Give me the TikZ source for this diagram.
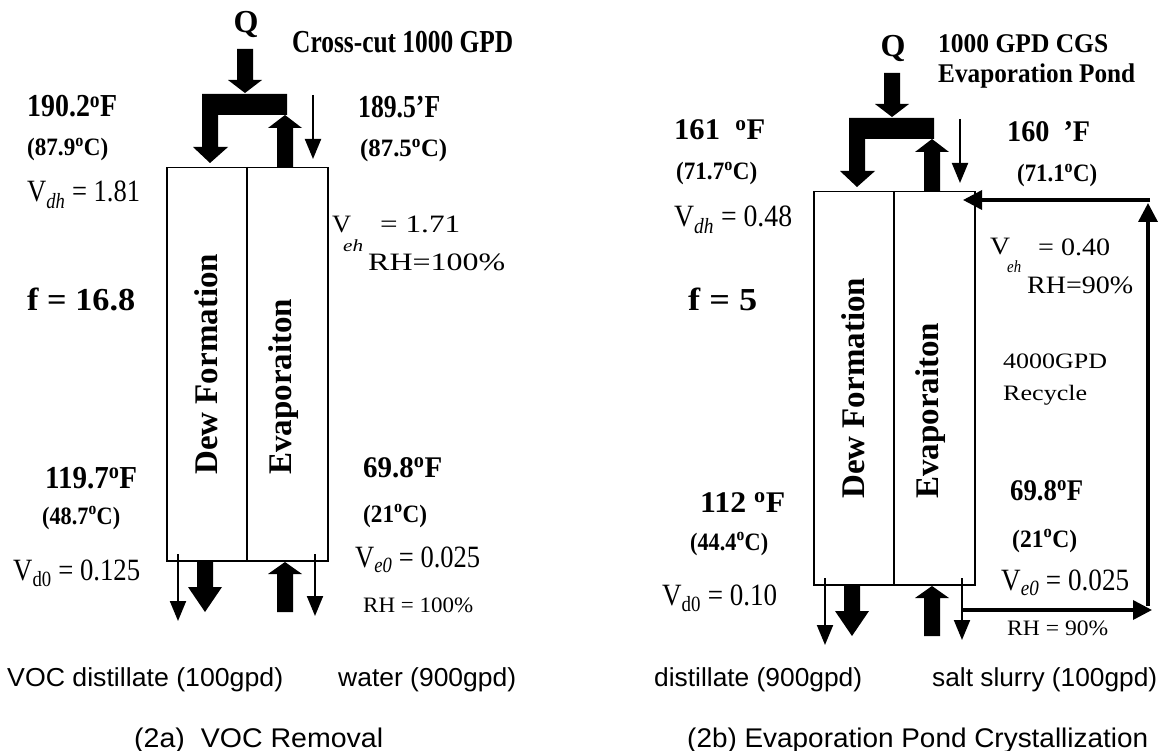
\documentclass[tikz,border=0pt]{standalone}
\usepackage{fontspec}
\usepackage{graphicx}
\setmainfont{Liberation Serif}
\newfontfamily\plainserif{Liberation Serif}
\newfontfamily\csans{Liberation Sans}
\usetikzlibrary{arrows.meta}
\newcommand{\fw}[2]{\resizebox{#1pt}{\height}{#2}}
\newcommand{\dg}{\textsuperscript{o}}
\tikzset{
  lbl/.style={inner sep=0pt, anchor=base west},
  bigb/.style={lbl, font=\plainserif\bfseries\fontsize{32}{32}\selectfont},
  medb/.style={lbl, font=\plainserif\bfseries\fontsize{30}{30}\selectfont},
  midb/.style={lbl, font=\plainserif\bfseries\fontsize{25}{25}\selectfont},
  titleb/.style={lbl, font=\plainserif\bfseries\fontsize{27}{27}\selectfont},
  val/.style={lbl, font=\plainserif\fontsize{31}{31}\selectfont},
  valsm/.style={lbl, font=\plainserif\fontsize{25}{25}\selectfont},
  sub/.style={lbl, font=\plainserif\itshape\fontsize{17}{17}\selectfont},
  rh/.style={lbl, font=\plainserif\fontsize{22}{22}\selectfont},
  capt/.style={lbl, font=\csans\fontsize{26}{26}\selectfont},
  captb/.style={lbl, font=\csans\fontsize{27}{27}\selectfont},
  rot/.style={inner sep=0pt, anchor=base west, rotate=90, font=\plainserif\bfseries\fontsize{33}{33}\selectfont},
  unit/.style={draw, line width=1.5pt, minimum width=161pt, minimum height=393pt, inner sep=0pt, anchor=north west},
  thick/.style={fill=black},
  thin/.style={line width=2pt, -{Triangle[width=16pt,length=20pt]}},
  loop/.style={line width=3.5pt, -{Triangle[width=19pt,length=19pt]}}
}
\newcommand{\panelparts}[1]{%
  \node[unit] (box#1) at (166,167) {};
  \draw[line width=1.5pt] (247,167) -- (247,560);
  \node[rot] (dew#1) at (217,475) {Dew Formation};
  \node[rot] (eva#1) at (291,475) {Evaporaiton};
  \node[lbl, font=\plainserif\bfseries\fontsize{32}{32}\selectfont, anchor=base] (q#1) at (246,33) {Q};
  % thick flows
  \fill[thick] (237,49)--(253,49)--(253,80)--(262,80)--(245,93)--(228,80)--(237,80)--cycle;
  \fill[thick] (202,94)--(287,94)--(287,115)--(218,115)--(218,147)--(228,147)--(210,163)--(193,147)--(202,147)--cycle;
  \fill[thick] (277,167)--(277,128)--(268,128)--(285,115)--(302,128)--(293,128)--(293,167)--cycle;
  \fill[thick] (197,560)--(213,560)--(213,587)--(222,587)--(205,612)--(188,587)--(197,587)--cycle;
  \fill[thick] (277,612)--(277,574)--(268,574)--(285,562)--(302,574)--(293,574)--(293,612)--cycle;
  % thin flows
  \coordinate (ti#1) at (313,95);  \coordinate (to#1) at (313,159);
  \coordinate (bl#1) at (178,554); \coordinate (blo#1) at (178,621);
  \coordinate (br#1) at (315,554); \coordinate (bro#1) at (315,616);
  \draw[thin] (ti#1) -- (to#1);
  \draw[thin] (bl#1) -- (blo#1);
  \draw[thin] (br#1) -- (bro#1);
}
\begin{document}
\begin{tikzpicture}[x=1pt,y=-1pt]
\useasboundingbox (0,0) rectangle (1159,751);
\fill[white] (0,0) rectangle (1159,751);
% ---------- left panel (2a)
\panelparts{A}
\node[bigb] (ttlA) at (292,53) {\fw{221}{Cross-cut 1000 GPD}};
\node[bigb] (thA) at (27,117) {\fw{90}{190.2\dg F}};
\node[midb] (chA) at (27,156) {\fw{81}{(87.9\dg C)}};
\node[val] (vdhA) at (27,202) {\fw{113}{V\textsubscript{\textit{dh}} = 1.81}};
\node[bigb] (fA) at (27,310) {\fw{108}{f = 16.8}};
\node[bigb] (tcA) at (45,488) {\fw{92}{119.7\dg F}};
\node[midb] (ccA) at (42,524) {\fw{78}{(48.7\dg C)}};
\node[val] (vd0A) at (13,580) {\fw{127}{V\textsubscript{d0} = 0.125}};
\node[bigb] (teA) at (358,118) {\fw{82}{189.5’F}};
\node[midb] (ceA) at (360,157) {\fw{87}{(87.5\dg C)}};
\node[valsm] (vehA) at (332,233) {\fw{19}{V}};
\node[valsm] (vehvA) at (380,233) {\fw{80}{= 1.71}};
\node[sub] (ehA) at (343,252) {\fw{20}{eh}};
\node[valsm] (rhtA) at (368,270) {\fw{137}{RH=100\%}};
\node[medb] (tbA) at (363,477) {\fw{79}{69.8\dg F}};
\node[midb] (cbA) at (363,522) {\fw{64}{(21\dg C)}};
\node[val] (ve0A) at (355,567) {\fw{125}{V\textsubscript{\textit{e0}} = 0.025}};
\node[rh] (rhbA) at (363,612) {\fw{110}{RH = 100\%}};
\node[capt] (c1A) at (7,686) {\fw{276}{VOC distillate (100gpd)}};
\node[capt] (c2A) at (338,686) {\fw{178}{water (900gpd)}};
\node[captb] (c3A) at (134,747) {\fw{249}{(2a)\ \ VOC Removal}};
% ---------- right panel (2b)
\begin{scope}[shift={(647,24)}]
\panelparts{B}
\end{scope}
\node[titleb] (ttlB1) at (938,53) {\fw{170}{1000 GPD CGS}};
\node[titleb] (ttlB2) at (938,83) {\fw{197}{Evaporation Pond}};
\node[medb] (thB) at (674,140) {\fw{91}{161\ \ \dg F}};
\node[midb] (chB) at (676,180) {\fw{81}{(71.7\dg C)}};
\node[val] (vdhB) at (674,227) {\fw{118}{V\textsubscript{\textit{dh}} = 0.48}};
\node[bigb] (fB) at (688,310) {\fw{69}{f = 5}};
\node[medb] (tcB) at (700,512) {\fw{85}{112\ \dg F}};
\node[midb] (ccB) at (690,550) {\fw{78}{(44.4\dg C)}};
\node[val] (vd0B) at (662,605) {\fw{115}{V\textsubscript{d0} = 0.10}};
\node[medb] (teB) at (1007,142) {\fw{83}{160\ \ ’F}};
\node[midb] (ceB) at (1017,182) {\fw{80}{(71.1\dg C)}};
\node[valsm] (vehB) at (990,255) {\fw{20}{V}};
\node[valsm] (vehvB) at (1038,255) {\fw{72}{= 0.40}};
\node[sub] (ehB) at (1007,273) {\fw{14}{eh}};
\node[valsm] (rhtB) at (1027,293) {\fw{106}{RH=90\%}};
\node[rh] (recB1) at (1003,368) {\fw{104}{4000GPD}};
\node[rh] (recB2) at (1003,400) {\fw{84}{Recycle}};
\node[medb] (tbB) at (1010,500) {\fw{73}{69.8\dg F}};
\node[midb] (cbB) at (1012,547) {\fw{65}{(21\dg C)}};
\node[val] (ve0B) at (1001,590) {\fw{128}{V\textsubscript{\textit{e0}} = 0.025}};
\node[rh] (rhbB) at (1007,635) {\fw{101}{RH = 90\%}};
\node[capt] (c1B) at (654,686) {\fw{208}{distillate (900gpd)}};
\node[capt] (c2B) at (932,686) {\fw{225}{salt slurry (100gpd)}};
\node[captb] (c3B) at (687,747) {\fw{461}{(2b) Evaporation Pond Crystallization}};
% recycle loop
\coordinate (lpBot) at (1148,606);
\coordinate (lpTop) at (1148,203);
\coordinate (lpCorner) at (1150,200);
\coordinate (lpIn) at (963,200);
\coordinate (lpOutS) at (962,610);
\coordinate (lpOutE) at (1152,610);
\draw[loop] (lpBot) -- (lpTop);
\draw[loop] (lpCorner) -- (lpIn);
\draw[loop] (lpOutS) -- (lpOutE);
\end{tikzpicture}
\end{document}
